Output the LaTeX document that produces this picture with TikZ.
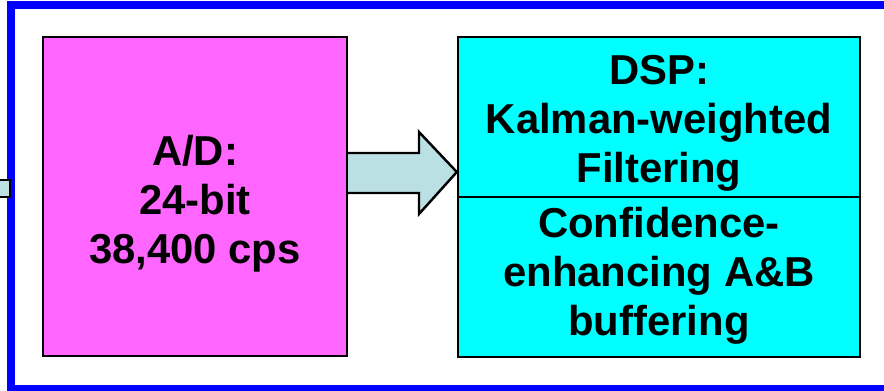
\documentclass[tikz,border=0pt]{standalone}
\usepackage{fontspec}
\setmainfont{Liberation Sans}
\usetikzlibrary{calc}
\tikzset{
  blockbox/.style={draw=black, line width=1.4pt, inner sep=0pt},
  blocktext/.style={font=\fontsize{23.8}{27.8}\selectfont\bfseries, align=center, inner sep=0pt},
}
\begin{document}
\begin{tikzpicture}[x=0.02cm,y=-0.02cm]
\definecolor{adpink}{RGB}{255,102,255}
\definecolor{dspcyan}{RGB}{0,255,255}
\definecolor{arrowfill}{RGB}{187,224,227}
\definecolor{frameblue}{RGB}{0,0,255}
\clip (0,0) rectangle (884,390);
\fill[white] (0,0) rectangle (884,390);
\draw[frameblue, line width=4.5pt] (11,5) rectangle (930,389);
% input stub coming in from the left
\draw[line width=1.4pt, fill=arrowfill] (-10,180) rectangle (10,197);
% converter and DSP blocks
\node[blockbox, fill=adpink, minimum width=6.08cm, minimum height=6.38cm] (ad) at (195,196.5) {};
\node[blockbox, fill=dspcyan, minimum width=8.04cm, minimum height=3.2cm] (dspa) at (659,117) {};
\node[blockbox, fill=dspcyan, minimum width=8.04cm, minimum height=3.2cm] (dspb) at (659,277) {};
\node[blocktext] (adlabel) at ($(ad.center)+(0,7)$) {A/D:\\24-bit\\38,400 cps};
\node[blocktext] (dspalabel) at ($(dspa.center)+(0,6)$) {DSP:\\Kalman-weighted\\Filtering};
\node[blocktext] (dspblabel) at ($(dspb.center)+(0,-1)$) {Confidence-\\enhancing A\&B\\buffering};
% block arrow A/D -> DSP
\coordinate (tip) at (dspa.west |- 0,172);
\draw[line width=1.4pt, fill=arrowfill, line join=miter]
  (ad.east |- 0,153) -- (419,153) -- (419,132) -- (tip)
  -- (419,214) -- (419,193) -- (ad.east |- 0,193);
\end{tikzpicture}
\end{document}
